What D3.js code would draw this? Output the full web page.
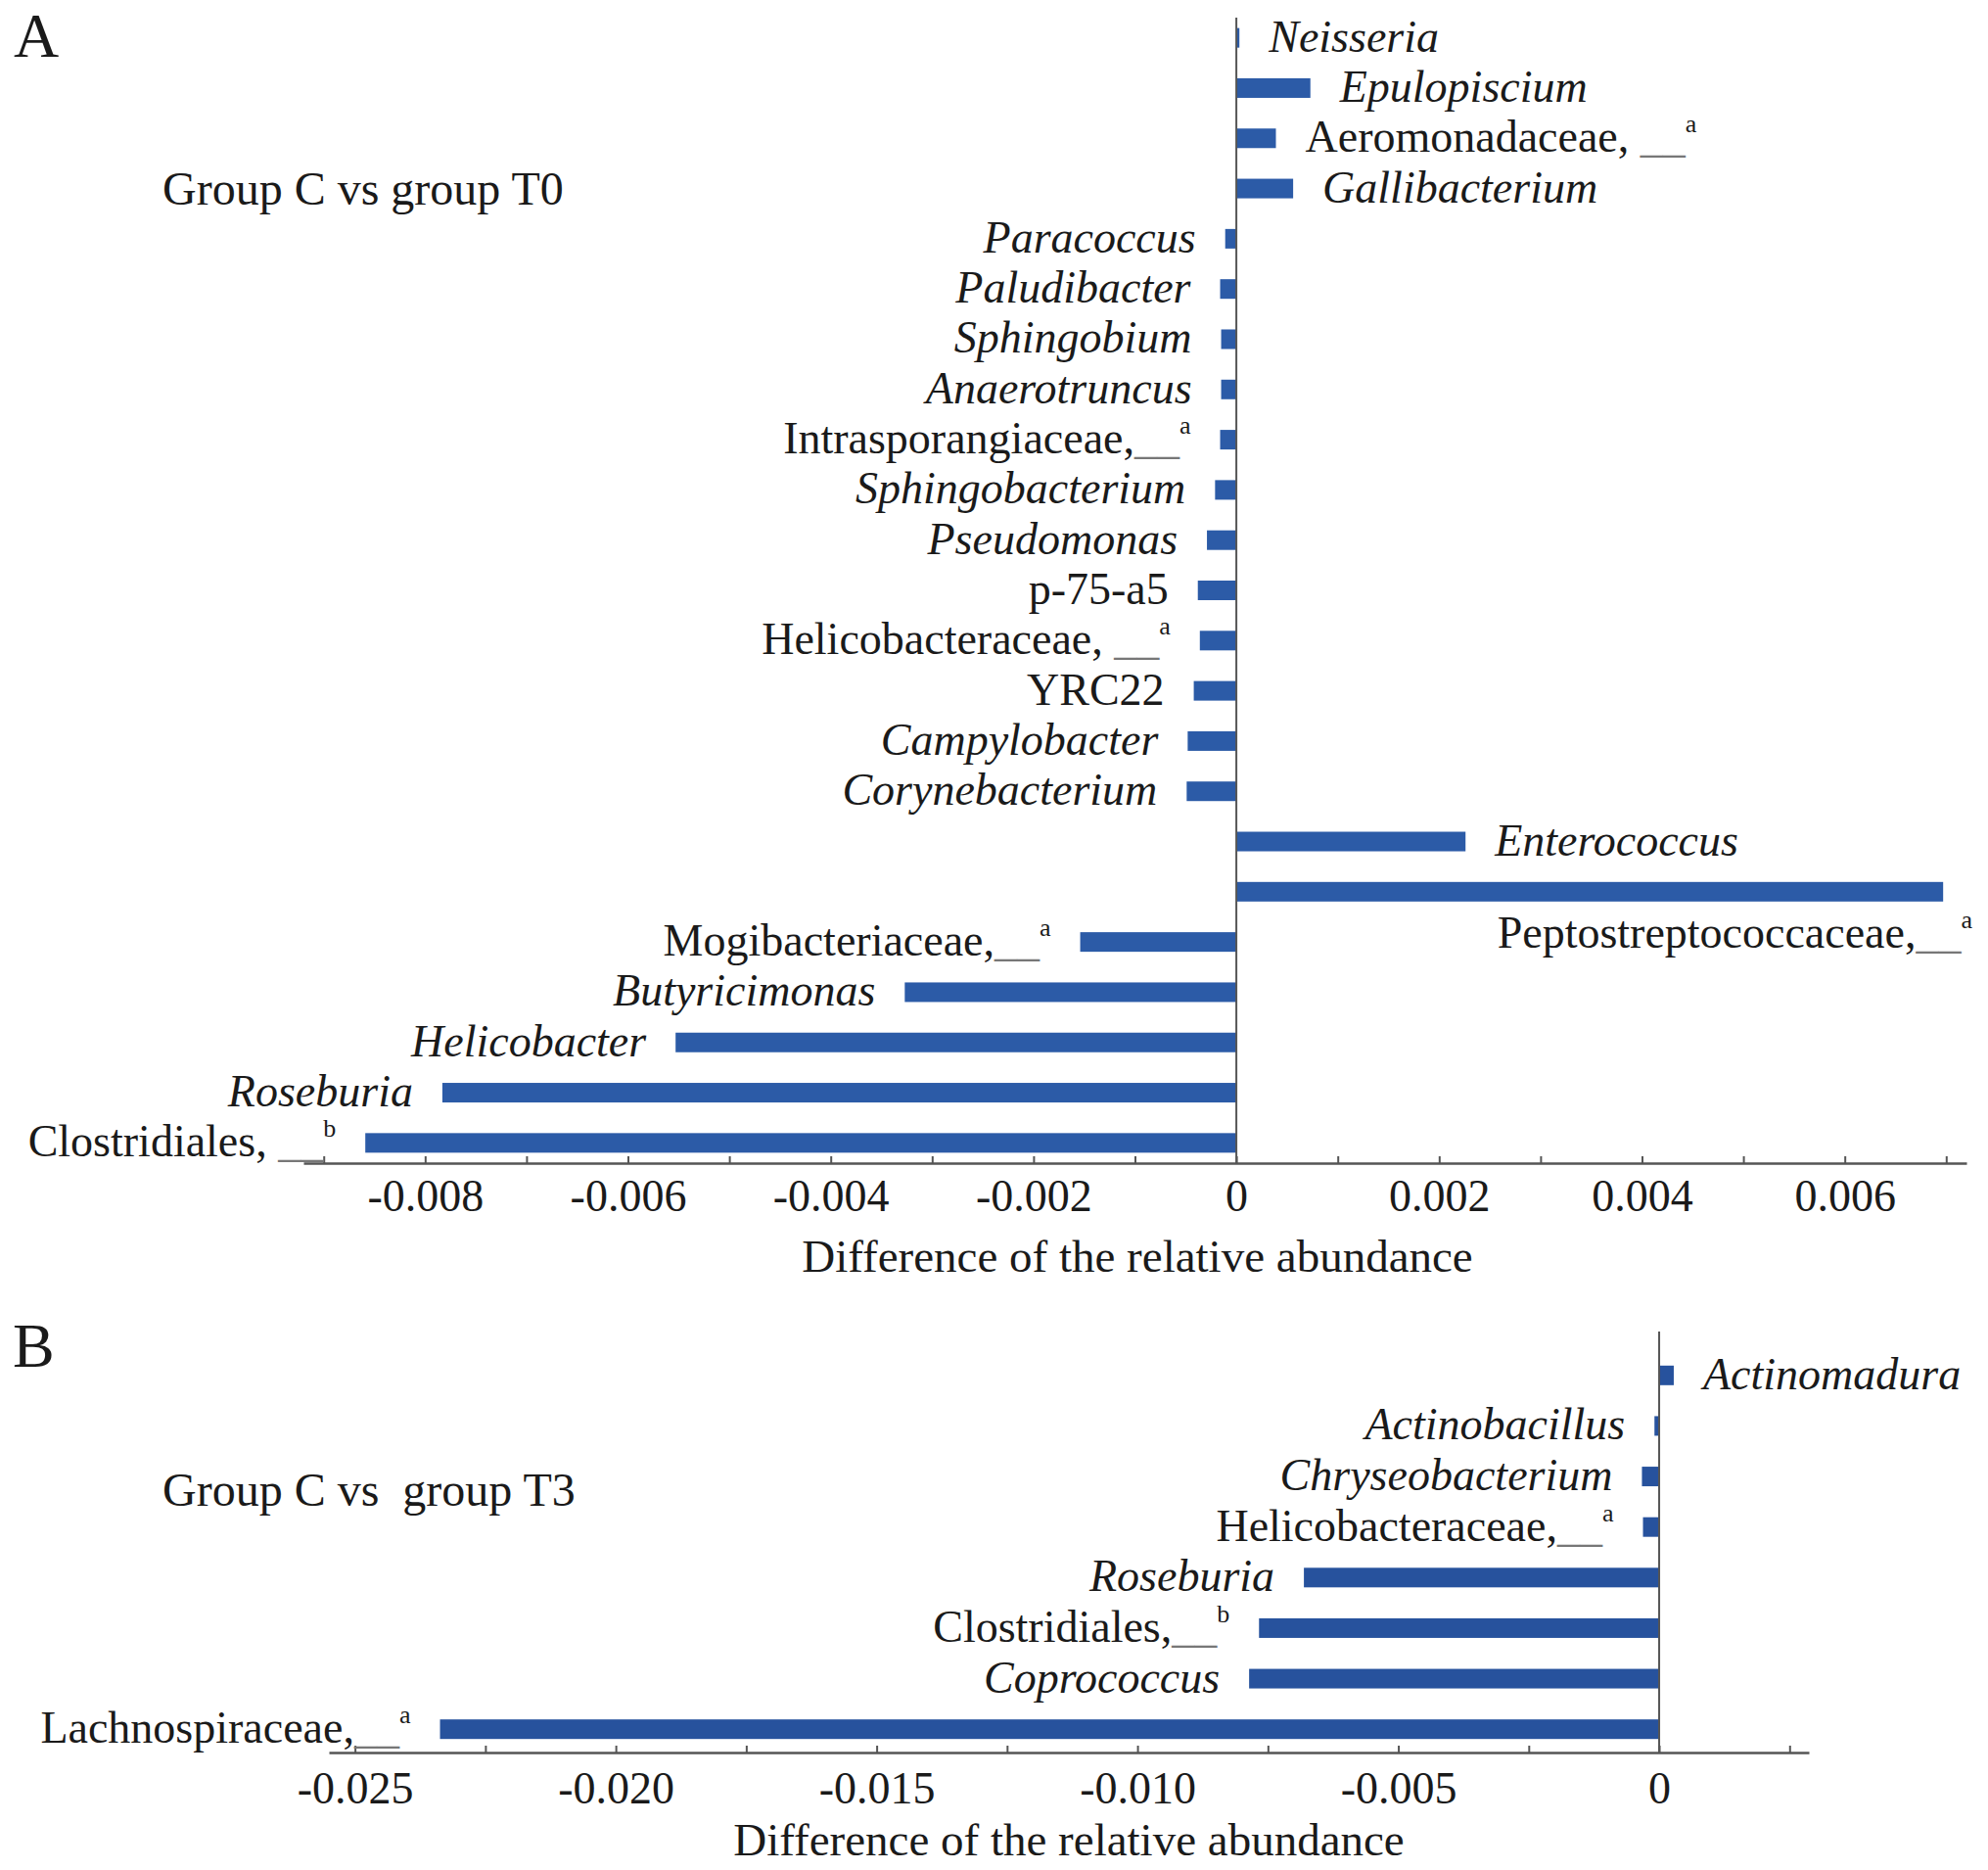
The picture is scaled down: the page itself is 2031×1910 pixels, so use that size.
<!DOCTYPE html>
<html>
<head>
<meta charset="utf-8">
<script src="https://cdn.jsdelivr.net/npm/d3@7"></script>
<style>
body { margin: 0; background: #fff; }
text { font-family: "Liberation Serif", "Times New Roman", serif; fill: #1a1a1a; white-space: pre; }
</style>
</head>
<body>
<script>
// panel A: group C vs group T0
var namesA = ["Neisseria", "Epulopiscium", "Aeromonadaceae, ", "Gallibacterium", "Paracoccus",
    "Paludibacter", "Sphingobium", "Anaerotruncus", "Intrasporangiaceae,", "Sphingobacterium",
    "Pseudomonas", "p-75-a5", "Helicobacteraceae, ", "YRC22", "Campylobacter", "Corynebacterium",
    "Enterococcus", "Peptostreptococcaceae,", "Mogibacteriaceae,", "Butyricimonas", "Helicobacter",
    "Roseburia", "Clostridiales, "];
var valuesA = [0.00003, 0.00073, 0.00039, 0.00056, -0.00011,
    -0.00016, -0.00015, -0.00015, -0.00016, -0.00021,
    -0.00029, -0.00038, -0.00036, -0.00042, -0.00048, -0.00049,
    0.00226, 0.00697, -0.00154, -0.00327, -0.00553,
    -0.00783, -0.00859];
var italicA = [1, 1, 0, 1, 1, 1, 1, 1, 0, 1, 1, 0, 0, 0, 1, 1, 1, 0, 0, 1, 1, 1, 0];
var supA = ["", "", "a", "", "", "", "", "", "a", "", "", "", "a", "", "", "", "", "a", "a", "", "", "", "b"];
var majorA = [-0.008, -0.006, -0.004, -0.002, 0, 0.002, 0.004, 0.006];
var minorA = [-0.009, -0.008, -0.007, -0.006, -0.005, -0.004, -0.003, -0.002, -0.001, 0,
    0.001, 0.002, 0.003, 0.004, 0.005, 0.006, 0.007];

// panel B: group C vs group T3
var namesB = ["Actinomadura", "Actinobacillus", "Chryseobacterium", "Helicobacteraceae,",
    "Roseburia", "Clostridiales,", "Coprococcus", "Lachnospiraceae,"];
var valuesB = [0.00028, -0.00009, -0.00033, -0.00031, -0.00681, -0.00767, -0.00786, -0.02337];
var italicB = [1, 1, 1, 0, 1, 0, 1, 0];
var supB = ["", "", "", "a", "", "b", "", "a"];
var majorB = [-0.025, -0.020, -0.015, -0.010, -0.005, 0];
var minorB = [-0.025, -0.0225, -0.020, -0.0175, -0.015, -0.0125, -0.010, -0.0075, -0.005, -0.0025, 0, 0.0025];

var W = 2031, H = 1910;
var svg = d3.select("body").append("svg").attr("width", W).attr("height", H);

function drawPanel(p) {
    var g = svg.append("g");
    var x = d3.scaleLinear().domain(p.xDomain).range(p.xRange);
    var y = d3.scaleBand().domain(p.names).range(p.yRange).padding(0);
    var barH = 20, gap = 30;
    var rows = p.names.map(function(n, i){
        return {name: n, value: p.values[i], italic: p.italic[i], sup: p.sup[i]};
    });

    g.selectAll("rect.bar").data(rows).enter().append("rect")
        .attr("class", "bar")
        .attr("x", function(d){ return x(Math.min(0, d.value)); })
        .attr("width", function(d){ return Math.abs(x(d.value) - x(0)); })
        .attr("y", function(d){ return y(d.name) + (y.bandwidth() - barH)/2; })
        .attr("height", barH)
        .attr("fill", p.color);

    // zero line
    g.append("line")
        .attr("x1", x(0)).attr("x2", x(0))
        .attr("y1", p.zeroTop).attr("y2", p.axisY)
        .attr("stroke", "#555").attr("stroke-width", 2);

    // bottom axis with minor ticks pointing up
    var ax = g.append("g").attr("transform", "translate(0," + p.axisY + ")")
        .call(d3.axisBottom(x).tickValues(p.minor).tickSize(-7).tickSizeOuter(0).tickFormat(""));
    ax.select(".domain").attr("stroke", "#555").attr("stroke-width", 2.5);
    ax.selectAll(".tick line").attr("stroke", "#555").attr("stroke-width", 2);

    var lab = g.append("g").attr("transform", "translate(0," + p.axisY + ")")
        .call(d3.axisBottom(x).tickValues(p.major).tickSize(0)
            .tickFormat(function(d){ return d === 0 ? "0" : d.toFixed(3); }));
    lab.select(".domain").remove();
    lab.selectAll("text")
        .attr("y", p.tickBase - p.axisY).attr("dy", null)
        .attr("font-family", null).attr("font-size", 46).attr("fill", "#1a1a1a");

    g.append("text")
        .attr("x", p.titleX).attr("y", p.titleBase)
        .attr("text-anchor", "middle").attr("font-size", 47)
        .text("Difference of the relative abundance");

    // category labels
    rows.forEach(function(d){
        var cy = y(d.name) + y.bandwidth()/2;
        var t = g.append("text").attr("font-size", 46).attr("y", cy + 14);
        if (d.sup) {
            t.append("tspan").text(d.name);
            t.append("tspan").attr("fill", "#777").text("__");
            t.append("tspan").attr("font-size", 26).attr("dy", -20).text(d.sup);
        } else {
            t.text(d.name).attr("font-style", d.italic ? "italic" : null);
        }
        if (d.value < 0) {
            t.attr("text-anchor", "end").attr("x", x(d.value) - gap);
        } else {
            t.attr("text-anchor", "start").attr("x", x(d.value) + gap);
            var bb = t.node().getBBox();
            if (bb.x + bb.width > W - 8) {
                // no room on the right: put it under the bar
                t.attr("text-anchor", "end").attr("x", p.xRange[1] + 6).attr("y", cy + 57);
            }
        }
    });

    svg.append("text").attr("x", p.letterX).attr("y", p.letterBase)
        .attr("font-size", 64).text(p.letter);
    svg.append("text").attr("x", 166).attr("y", p.groupBase)
        .attr("font-size", 48).text(p.group);
}

drawPanel({
    names: namesA, values: valuesA, italic: italicA, sup: supA,
    major: majorA, minor: minorA, color: "#2c5ba7",
    xDomain: [-0.0092, 0.0072], xRange: [310, 2009],
    yRange: [13, 1193], axisY: 1188, zeroTop: 18,
    tickBase: 1237, titleBase: 1299, titleX: 1162,
    letter: "A", letterX: 14, letterBase: 58,
    group: "Group C vs group T0", groupBase: 209
});

drawPanel({
    names: namesB, values: valuesB, italic: italicB, sup: supB,
    major: majorB, minor: minorB, color: "#27529d",
    xDomain: [-0.0255, 0.00287], xRange: [336, 1848],
    yRange: [1379, 1792], axisY: 1790, zeroTop: 1360,
    tickBase: 1842, titleBase: 1895, titleX: 1092,
    letter: "B", letterX: 13, letterBase: 1396,
    group: "Group C vs  group T3", groupBase: 1538
});
</script>
</body>
</html>
